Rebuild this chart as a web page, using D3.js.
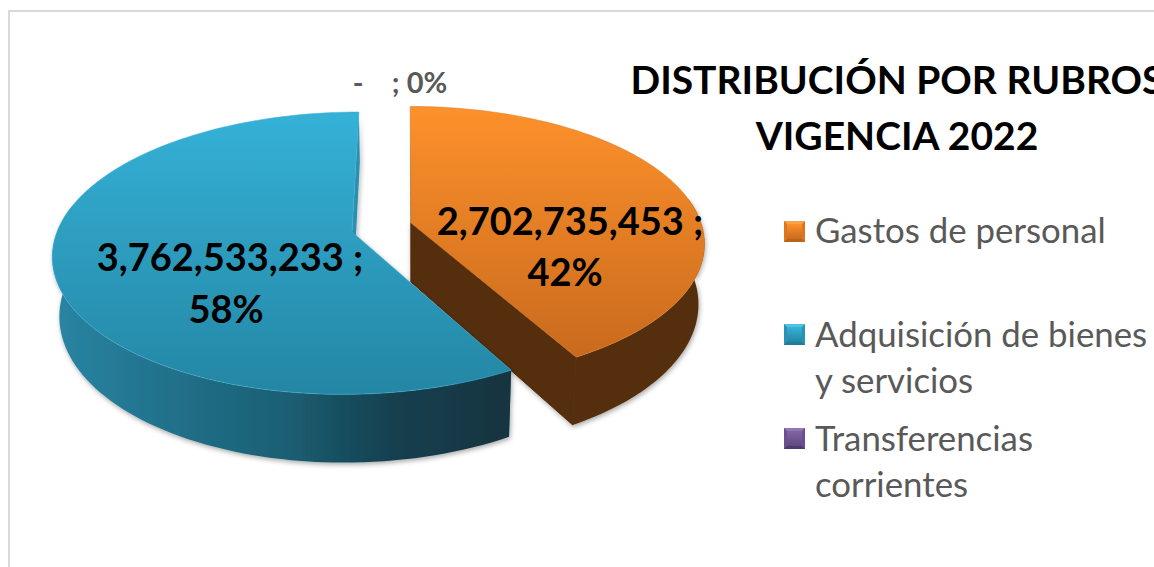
<!DOCTYPE html>
<html><head><meta charset="utf-8">
<script src="https://cdn.jsdelivr.net/npm/d3@7"></script>
<style>html,body{margin:0;padding:0;background:#fff;overflow:hidden}svg{display:block}text{font-family:Lato,"Open Sans",sans-serif}</style>
</head><body><div id="c"></div>
<script>
const categories = ["Gastos de personal", "Adquisición de bienes y servicios", "Transferencias corrientes"];
const values = [2702735453, 3762533233, 0];
const titleLines = ["DISTRIBUCIÓN POR RUBROS", "VIGENCIA 2022"];
const legendLines = [["Gastos de personal"], ["Adquisición de bienes", "y servicios"], ["Transferencias", "corrientes"]];

const W = 1154, H = 567;
const viewX = 405, persp = 0.15, wallInset = 0.98;
const sliceRadiusX = [290, 295, 290];
const sliceCenterX = [6, -53, 0], sliceCenterY = [223, 232, 228], sliceRadiusY = [134, 138, 134], sliceDepth = [59, 58, 58];
const topColors = [["#fd912b", "#c96a1d"], ["#35b1d7", "#2486a4"], ["#8064a2", "#5f4a80"]];
const wallColors = [["#552d0d", "#552d0d"], ["#2a85a3", "#21718b", "#1c6074", "#143f4e", "#12343f"], ["#5f4a80", "#2c2040"]];
const bevelColors = [["#fba14a", "#b8641a", "#d9761f"], ["#4cc3e3", "#1f7d99", "#2a92b2"], ["#9078b4", "#4f3a70", "#6a4f92"]];
const legendY = [221, 324, 428];
const legendBaselines = [[243], [347, 393], [451, 497]];

const svg = d3.select("#c").append("svg").attr("width", W).attr("height", H);
const defs = svg.append("defs");
const pct = d3.format(".0%"), num = d3.format(",");
const total = d3.sum(values);
const arcs = d3.pie().sort(null).value(d => d)(values);

const shadow = defs.append("filter").attr("id", "sh").attr("x", "-10%").attr("y", "-10%").attr("width", "120%").attr("height", "120%");
shadow.append("feDropShadow").attr("dx", 1).attr("dy", 2).attr("stdDeviation", 2.5).attr("flood-color", "#000").attr("flood-opacity", 0.35);

// frame
svg.append("path").attr("d", d3.line()([[9, H], [9, 11], [W, 11]])).attr("fill", "none").attr("stroke", "#d9d9d9").attr("stroke-width", 2);

function project(i, a, r, bottom) {
  const u = Math.sin(a) * r, v = -Math.cos(a) * r;
  const s = 1 / (1 - persp * v);
  let x = viewX + (sliceCenterX[i] + sliceRadiusX[i] * u) * s;
  let y = sliceCenterY[i] + sliceRadiusY[i] * v * s;
  if (bottom) { x = viewX + (x - viewX) * wallInset; y += sliceDepth[i] * s; }
  return [x, y];
}
const line = d3.line();
function rimAngles(d) {
  const n = 120, t = d3.scaleLinear().domain([0, n]).range([d.startAngle, d.endAngle]);
  return d3.range(n + 1).map(k => t(k));
}

arcs.forEach((d, i) => {
  if (d.value === 0) return;
  const tg = defs.append("linearGradient").attr("id", "top" + i).attr("x1", 0).attr("y1", 0).attr("x2", 0).attr("y2", 1);
  tg.append("stop").attr("offset", 0).attr("stop-color", topColors[i][0]);
  tg.append("stop").attr("offset", 1).attr("stop-color", topColors[i][1]);
  const wg = defs.append("linearGradient").attr("id", "wall" + i).attr("x1", 0).attr("y1", 0).attr("x2", 1).attr("y2", 0);
  wallColors[i].forEach((c, k) => wg.append("stop").attr("offset", k / (wallColors[i].length - 1)).attr("stop-color", c));

  const g = svg.append("g");
  const walls = g.append("g").attr("filter", "url(#sh)");
  const ang = rimAngles(d);
  const top = ang.map(a => project(i, a, 1, false));
  const bot = ang.map(a => project(i, a, 1, true));
  const a0 = project(i, 0, 0, false), a1 = project(i, 0, 0, true);
  // cut faces
  const faceColor = i === 0 ? "#552d0d" : "#2a8fb0";
  walls.append("path").attr("d", line([top[0], bot[0], a1, a0]) + "Z").attr("fill", faceColor);
  walls.append("path").attr("d", line([top[top.length - 1], bot[bot.length - 1], a1, a0]) + "Z")
    .attr("fill", faceColor).attr("stroke", i === 0 ? faceColor : "none").attr("stroke-width", 1);
  // outer wall: only the part that faces the viewer
  const front = ang.map((a, k) => k).filter(k => -Math.cos(ang[k]) > -0.2);
  const wallTop = front.map(k => top[k]), wallBot = front.map(k => bot[k]);
  walls.append("path").attr("d", line(wallTop.concat(wallBot.reverse())) + "Z").attr("fill", `url(#wall${i})`);
  // top face
  g.append("path").attr("d", line([a0].concat(top)) + "Z").attr("fill", `url(#top${i})`)
    .attr("stroke", i === 1 ? "#3fb0d2" : "#d97a24").attr("stroke-width", 0.8).attr("stroke-opacity", 0.7);
});

// data labels
const dataLabelPos = [[[570, 235], [565, 286]], [[230, 271], [226, 323]]];
arcs.slice(0, 2).forEach((d, i) => {
  const lines = [num(d.value) + " ;", pct(d.value / total)];
  lines.forEach((t, k) => svg.append("text").attr("x", dataLabelPos[i][k][0]).attr("y", dataLabelPos[i][k][1])
    .attr("text-anchor", "middle").attr("font-size", 38).attr("font-weight", 700).attr("fill", "#000").text(t));
});
svg.append("text").attr("x", 400).attr("y", 93).attr("text-anchor", "middle").attr("font-size", 29).attr("font-weight", 700)
  .attr("fill", "#595959").style("white-space", "pre").text("-    ; " + pct(values[2] / total));

// title
titleLines.forEach((t, k) => svg.append("text").attr("x", 897).attr("y", 94 + k * 56).attr("text-anchor", "middle")
  .attr("font-size", 39).attr("font-weight", 700).attr("fill", "#000").text(t));

// legend
categories.forEach((c, i) => {
  const g = svg.append("g").attr("transform", `translate(784,${legendY[i]})`);
  const sg = defs.append("linearGradient").attr("id", "sw" + i).attr("x1", 0).attr("y1", 0).attr("x2", 0).attr("y2", 1);
  sg.append("stop").attr("offset", 0).attr("stop-color", topColors[i][0]);
  sg.append("stop").attr("offset", 1).attr("stop-color", topColors[i][1]);
  g.append("rect").attr("width", 21).attr("height", 21).attr("fill", bevelColors[i][2]);
  g.append("path").attr("d", line([[0, 0], [21, 0], [18, 3], [3, 3]]) + "Z").attr("fill", bevelColors[i][0]);
  g.append("path").attr("d", line([[0, 21], [21, 21], [18, 18], [3, 18]]) + "Z").attr("fill", bevelColors[i][1]);
  g.append("rect").attr("x", 3).attr("y", 3).attr("width", 15).attr("height", 15).attr("fill", `url(#sw${i})`);
  legendLines[i].forEach((t, k) => svg.append("text").attr("x", 815).attr("y", legendBaselines[i][k])
    .attr("font-size", 34.8).attr("fill", "#595959").text(t));
});
</script></body></html>
